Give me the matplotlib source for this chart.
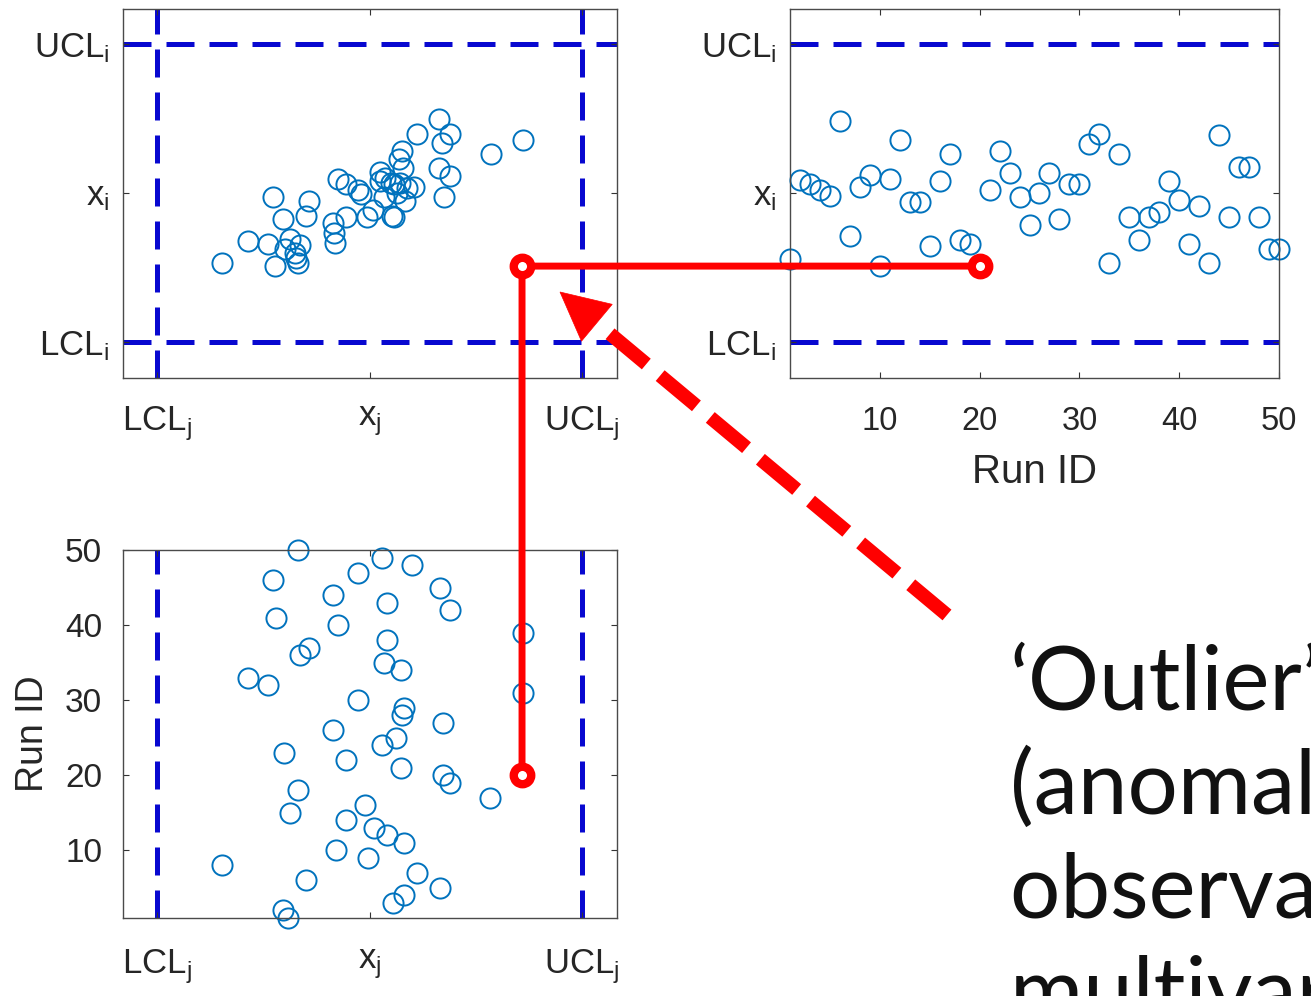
import numpy as np
import matplotlib
matplotlib.use("Agg")
import matplotlib.pyplot as plt
from matplotlib.patches import ConnectionPatch, Polygon
from matplotlib.lines import Line2D

# ---------------- data ----------------
# control limits (standardised units)
lcl, centre, ucl = -3.0, 0.0, 3.0

# top-left: x_j vs x_i scatter
scatter_xj = [-2.09, -1.71, -1.44, -1.33, -1.36, -1.22, -1.20, -1.13, -1.06, -0.98,
              -1.01, -1.04, -0.86, -0.90, -0.51, -0.50, -0.49, -0.45, -0.33, -0.33,
              -0.17, -0.12, -0.04, 0.05, 0.15, 0.15, 0.30, 0.34, 0.45, 0.42,
              0.47, 0.50, 0.62, 0.67, 0.98, 1.14, 1.02, 0.98, 1.14, 1.05,
              1.71, 2.17, 0.34, 0.43, 0.52, 0.38, 0.20, 0.22, 0.31]
scatter_xi = [-1.40, -0.97, -1.02, -1.47, -0.09, -0.53, -1.12, -0.92, -1.20, -1.05,
              -1.40, -1.30, -0.17, -0.46, -0.61, -0.81, -1.01, 0.29, -0.48, 0.19,
              0.07, -0.02, -0.48, -0.35, 0.42, 0.24, 0.20, -0.49, 0.85, 0.68,
              0.51, -0.16, 0.12, 1.18, 1.48, 1.18, 1.01, 0.51, 0.34, -0.09,
              0.79, 1.06, 0.18, 0.21, 0.11, 0.01, -0.09, 0.30, -0.46]

# top-right: x_i by run (run 20 shown as the outlier)
tr_runs = [r for r in range(1, 51) if r != 20]
tr_xi = [-1.33, 0.26, 0.18, 0.07, -0.06, 1.45, -0.87, 0.12, 0.36, -1.46,
         0.29, 1.06, -0.19, -0.19, -1.07, 0.24, 0.78, -0.95, -1.02,
         0.07, 0.85, 0.41, -0.09, -0.64, 0.01, 0.41, -0.53, 0.19, 0.19,
         0.99, 1.18, -1.40, 0.78, -0.48, -0.95, -0.48, -0.38, 0.24, -0.15,
         -1.02, -0.26, -1.40, 1.17, -0.48, 0.52, 0.52, -0.48, -1.13, -1.13]

# bottom-left: x_j by run
bl_runs = list(range(1, 51))
bl_xj = [-1.15, -1.22, 0.33, 0.48, 0.99, -0.90, 0.67, -2.09, -0.02, -0.47,
         0.48, 0.24, 0.06, -0.33, -1.13, -0.06, 1.70, -1.01, 1.14, 1.04,
         0.44, -0.33, -1.21, 0.17, 0.37, -0.52, 1.04, 0.45, 0.48, -0.17,
         2.16, -1.44, -1.71, 0.44, 0.20, -0.98, -0.86, 0.24, 2.16, -0.44,
         -1.32, 1.14, 0.24, -0.52, 0.99, -1.36, -0.17, 0.60, 0.17, -1.01]

# the outlier observation
outlier_run = 20
outlier_xj = 2.15
outlier_xi = -1.47

run_ticks = [10, 20, 30, 40, 50]
xj_labels = ["$LCL_j$", "$x_j$", "$UCL_j$"]
xi_labels = ["$LCL_i$", "$x_i$", "$UCL_i$"]
note_lines = ["\u2018Outlier\u2019", "(anomalous)", "observation in", "multivariate space"]

# ---------------- style ----------------
plt.rcParams["font.family"] = ["Liberation Sans", "DejaVu Sans"]
plt.rcParams["mathtext.default"] = "regular"

W, H = 1311, 996
fig = plt.figure(figsize=(W / 100, H / 100), dpi=100)
fig.patch.set_facecolor("white")


def rect(l, t, r, b):
    return [l / W, 1 - b / H, (r - l) / W, (b - t) / H]


ax_tl = fig.add_axes(rect(123, 9, 617, 378))
ax_tr = fig.add_axes(rect(790, 9, 1279, 378))
ax_bl = fig.add_axes(rect(123, 550, 617, 918))

BLUE_PT = "#0072BD"
LIM_BLUE = "#0808d0"
LIM_STYLE = dict(color=LIM_BLUE, lw=3.6, ls=(0, (5.6, 3.0)), zorder=1)
PT_STYLE = dict(ls="none", marker="o", mfc="none", mec=BLUE_PT, ms=14.5, mew=1.4,
                clip_on=False, zorder=2)
TXT = "#262626"


def style(ax):
    for s in ax.spines.values():
        s.set_color("#4a4a4a")
        s.set_linewidth(1.0)
    ax.tick_params(direction="in", length=4, width=0.8, color="#333333",
                   top=True, right=True, labelcolor=TXT)


xlim_j = (-3.48, 3.49)
ylim_i = (-3.72, 3.70)

# top-left
ax = ax_tl
ax.plot(scatter_xj, scatter_xi, **PT_STYLE)
for v in (lcl, ucl):
    ax.axvline(v, **LIM_STYLE)
    ax.axhline(v, **LIM_STYLE)
ax.set_xlim(*xlim_j)
ax.set_ylim(*ylim_i)
ax.set_xticks([lcl, centre, ucl], xj_labels)
ax.set_yticks([lcl, centre, ucl], xi_labels)
style(ax)
ax.tick_params(axis="x", pad=19, labelsize=25)
ax.tick_params(axis="y", pad=10, labelsize=25)

# top-right
ax = ax_tr
ax.plot(tr_runs, tr_xi, **PT_STYLE)
for v in (lcl, ucl):
    ax.axhline(v, **LIM_STYLE)
ax.set_xlim(1, 50)
ax.set_ylim(*ylim_i)
ax.set_xticks(run_ticks)
ax.set_yticks([lcl, centre, ucl], xi_labels)
style(ax)
ax.tick_params(axis="x", pad=20, labelsize=23.5)
ax.tick_params(axis="y", pad=10, labelsize=25)
ax.set_xlabel("Run ID", fontsize=29, color=TXT, labelpad=12)

# bottom-left
ax = ax_bl
ax.plot(bl_xj, bl_runs, **PT_STYLE)
for v in (lcl, ucl):
    ax.axvline(v, **LIM_STYLE)
ax.set_xlim(*xlim_j)
ax.set_ylim(1, 50)
ax.set_xticks([lcl, centre, ucl], xj_labels)
ax.set_yticks(run_ticks)
style(ax)
ax.tick_params(axis="x", pad=21, labelsize=25)
ax.tick_params(axis="y", pad=15, labelsize=24)
ax.set_ylabel("Run ID", fontsize=27, color=TXT, labelpad=10)

# ---------------- outlier links ----------------
RED = "#ff0000"
con_h = ConnectionPatch(xyA=(outlier_xj, outlier_xi), coordsA=ax_tl.transData,
                        xyB=(outlier_run, outlier_xi), coordsB=ax_tr.transData,
                        color=RED, lw=5, zorder=3)
con_v = ConnectionPatch(xyA=(outlier_xj, outlier_xi), coordsA=ax_tl.transData,
                        xyB=(outlier_xj, outlier_run), coordsB=ax_bl.transData,
                        color=RED, lw=5, zorder=3)
fig.add_artist(con_h)
fig.add_artist(con_v)
RED_PT = dict(ls="none", marker="o", mfc="white", mec=RED, ms=12.6, mew=6, zorder=4)
fig.add_artist(Line2D([outlier_xj], [outlier_xi], transform=ax_tl.transData, **RED_PT))
fig.add_artist(Line2D([outlier_run], [outlier_xi], transform=ax_tr.transData, **RED_PT))
fig.add_artist(Line2D([outlier_xj], [outlier_run], transform=ax_bl.transData, **RED_PT))

# ---------------- dashed arrow ----------------
tail = np.array([947.0, H - 615.0])
tip = np.array([560.0, H - 292.0])
u = (tip - tail) / np.hypot(*(tip - tail))
perp = np.array([-u[1], u[0]])
head_len, head_w = 48.0, 48.0
base = tip - u * head_len
head = np.array([tip, base + perp * head_w / 2, base - perp * head_w / 2])
fig.add_artist(Polygon(head / [W, H], closed=True, transform=fig.transFigure,
                       fc=RED, ec=RED, lw=0.5, zorder=5))
shaft_end = base - u * 8
fig.add_artist(Line2D([tail[0] / W, shaft_end[0] / W], [tail[1] / H, shaft_end[1] / H],
                      transform=fig.transFigure, color=RED, lw=10,
                      ls=(0, (3.4, 1.3)), dash_capstyle="butt", zorder=5))

# ---------------- annotation text (cut by the right edge, as in the slide) ----------------
for k, line in enumerate(note_lines):
    fig.text(1010 / W, 1 - (710 + 103.5 * k) / H, line, fontsize=64,
             family=["Lato", "DejaVu Sans"], color="#111111",
             ha="left", va="baseline")

fig.savefig("out.png", dpi=100, facecolor="white")
